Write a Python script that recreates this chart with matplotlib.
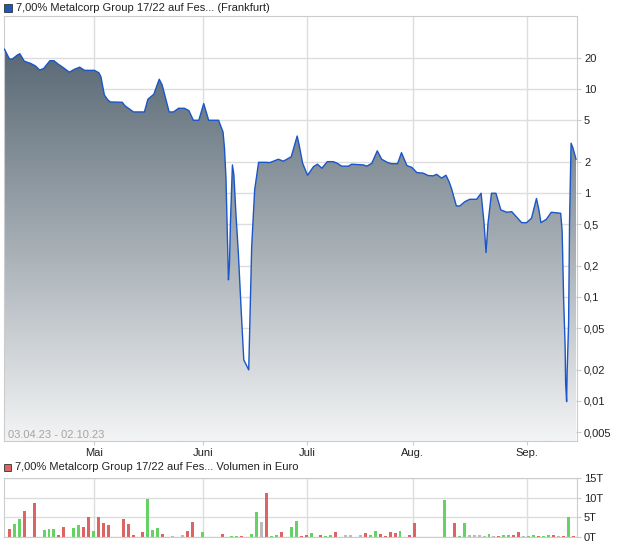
import numpy as np
import matplotlib
matplotlib.use('Agg')
import matplotlib.pyplot as plt
from matplotlib.colors import LinearSegmentedColormap
from matplotlib.patches import Rectangle
from matplotlib.ticker import NullLocator, FixedLocator

plt.rcParams['font.family'] = ['Liberation Sans', 'DejaVu Sans']

# price course, x = trading day since 03.04.23
days = [0, 1.0, 1.6, 2.6, 3.1, 4.0, 5.3, 6.3, 7.1, 7.9, 9.2, 10.0, 10.8, 12.0, 13.1,
        14.2, 15.2, 16.2, 18.2, 19.1, 19.5, 20.2, 20.9, 21.4, 23.8, 24.4, 26.1, 28.3,
        29.0, 30.2, 31.3, 31.9, 33.3, 34.2, 35.2, 36.4, 37.3, 38.2, 39.3, 40.3, 41.3,
        43.3, 44.2, 44.5, 44.8, 45.2, 45.3, 45.5, 45.7, 46.1, 46.4, 46.8, 47.3, 47.9,
        48.4, 49.4, 49.6, 50.0, 50.6, 51.4, 52.7, 53.7, 55.4, 56.4, 58.0, 59.2, 59.6,
        60.3, 61.3, 62.5, 63.3, 64.2, 65.3, 66.5, 67.3, 68.2, 69.6, 70.2, 72.6, 73.3,
        74.3, 75.4, 76.3, 77.4, 78.3, 79.5, 80.3, 81.4, 82.4, 83.4, 84.7, 85.7, 86.7,
        87.4, 88.4, 89.3, 89.9, 90.4, 91.4, 92.1, 93.1, 94.1, 95.5, 96.4, 97.0, 97.4,
        97.8, 98.5, 99.4, 100.4, 101.6, 102.6, 104.6, 105.6, 106.6, 107.6, 108.1, 108.5,
        109.6, 110.6, 112.5, 112.8, 113.1, 113.4, 113.5, 113.7, 113.8, 114.1, 114.2,
        114.3, 114.6, 115.0, 115.6]
price = [24.1, 19.4, 19.4, 21.2, 21.8, 18.5, 17.6, 16.6, 15.2, 15.7, 18.7, 18.7, 17.4,
         15.9, 14.5, 15.5, 16.2, 15.1, 15.1, 14.3, 13.1, 8.75, 7.84, 7.5, 7.45, 6.87,
         6.01, 6.01, 7.96, 8.89, 12.4, 10.9, 6.01, 6.01, 6.52, 6.52, 6.18, 5.0, 5.0,
         7.23, 5.0, 5.0, 3.86, 2.69, 1.38, 0.212, 0.146, 0.203, 0.515, 1.86, 1.49, 0.643,
         0.265, 0.0702, 0.0248, 0.0199, 0.0482, 0.305, 1.07, 1.97, 1.97, 1.96, 2.11,
         2.02, 2.23, 3.53, 2.89, 1.93, 1.48, 1.79, 1.89, 1.73, 2.0, 2.0, 1.93, 1.81,
         1.81, 1.89, 1.86, 1.81, 1.93, 2.54, 2.11, 1.97, 1.91, 1.91, 2.44, 1.83, 1.76,
         1.57, 1.55, 1.47, 1.46, 1.51, 1.39, 1.48, 1.29, 1.11, 0.75, 0.75, 0.824, 0.869,
         0.869, 0.993, 0.511, 0.267, 0.511, 0.993, 0.993, 0.687, 0.652, 0.661, 0.518,
         0.518, 0.571, 0.885, 0.687, 0.518, 0.558, 0.652, 0.638, 0.425, 0.0935, 0.0333,
         0.0149, 0.00984, 0.0186, 0.0562, 0.182, 0.55, 3.01, 2.69, 2.11]

months = ['Mai', 'Juni', 'Juli', 'Aug.', 'Sep.']
month_pos = [18.2, 40.2, 61.2, 82.6, 105.7]

price_ticks = [20, 10, 5, 2, 1, 0.5, 0.2, 0.1, 0.05, 0.02, 0.01, 0.005]
price_labels = ['20', '10', '5', '2', '1', '0,5', '0,2', '0,1', '0,05', '0,02', '0,01', '0,005']

# volume in thousand euro, r = down, g = up, n = unchanged
vol_days = [1, 2, 3, 4, 6, 8, 9, 10, 11, 12, 14, 15, 16, 17, 18, 19, 20, 21, 24, 25, 26,
            28, 29, 30, 31, 32, 34, 36, 37, 38, 40, 44, 46, 47, 48, 50, 51, 52, 53, 54,
            55, 56, 58, 59, 60, 61, 62, 64, 65, 66, 67, 69, 70, 72, 73, 74, 75, 76, 77,
            78, 79, 80, 82, 83, 89, 91, 92, 93, 94, 95, 96, 97, 98, 99, 100, 101, 102,
            103, 104, 105, 106, 107, 108, 109, 110, 111, 112, 113, 114, 115]
vol = [1.95, 3.2, 4.5, 6.5, 8.6, 1.7, 1.95, 1.95, 0.5, 2.5, 2.2, 3.0, 2.5, 5.0, 1.4, 5.0,
       3.5, 3.0, 4.7, 3.2, 0.5, 1.2, 9.6, 1.7, 2.2, 0.7, 0.2, 0.4, 1.4, 3.7, 1.2, 0.7,
       0.2, 0.2, 0.25, 0.7, 6.3, 3.7, 11.1, 0.3, 0.4, 1.2, 2.5, 4.0, 0.3, 0.5, 0.9, 0.4,
       0.25, 0.4, 1.2, 0.4, 0.4, 0.4, 0.9, 0.4, 1.4, 0.7, 0.25, 1.2, 1.0, 1.4, 0.4, 3.5,
       9.3, 3.5, 0.25, 3.5, 0.4, 0.4, 0.4, 0.25, 0.7, 0.25, 0.25, 0.4, 0.4, 0.4, 1.2,
       0.25, 0.25, 0.4, 0.25, 0.25, 0.4, 0.4, 0.25, 0.25, 5.0, 0.25]
vol_dir = ('rggrrgggrr' 'ggrrgrrrrr' 'rrgggrnnrr' 'grggrggnrg' 'grggrrgrgg'
           'rnnnrggrrr' 'rgrrgrggnn' 'nngnrggrrn' 'ggrggrnrgr')
vol_ticks = [0, 5, 10, 15]
vol_labels = ['0T', '5T', '10T', '15T']

dir_color = {'r': '#dd6464', 'g': '#66d266', 'n': '#bbbbbb'}

W, H = 620, 546
fig = plt.figure(figsize=(W / 100, H / 100), dpi=100)

# ---- price panel
ax = fig.add_axes([4 / W, 1 - 441 / H, 573 / W, 425 / H])
ax.set_yscale('log')

poly, = ax.fill(days + [days[-1], days[0]], price + [1e-4, 1e-4],
                facecolor='none', edgecolor='none')
cmap = LinearSegmentedColormap.from_list('g', ['#f3f4f5', '#4b5c69'])
grad = np.linspace(0, 1, 256).reshape(-1, 1)
im = ax.imshow(grad, extent=[0, 1, 0, 1], transform=ax.transAxes, origin='lower',
               aspect='auto', cmap=cmap, zorder=1)
im.set_clip_path(poly)
ax.plot(days, price, color='#1a56c8', lw=1.0, zorder=3)

ax.set_xlim(-0.1, 115.8)
ax.set_ylim(0.00412, 50.3)
ax.yaxis.set_major_locator(FixedLocator(price_ticks))
ax.yaxis.set_minor_locator(NullLocator())
ax.set_yticklabels(price_labels)
ax.set_xticks(month_pos)
ax.set_xticklabels(months)
ax.yaxis.tick_right()
ax.grid(color='#dddddd', lw=1, zorder=0)
ax.set_axisbelow(True)
ax.tick_params(axis='y', length=3, color='#cccccc', labelsize=8, pad=2, labelcolor='#222222')
ax.tick_params(axis='x', length=3, color='#cccccc', labelsize=8, pad=2, labelcolor='#222222')
for s in ax.spines.values():
    s.set_color('#cccccc')
ax.text(4 / 573, 6 / 425, '03.04.23 - 02.10.23', transform=ax.transAxes,
        fontsize=8, color='#aaa39b', va='center', ha='left')

fig.patches.append(Rectangle((4 / W, 1 - 12 / H), 8 / W, 8 / H, transform=fig.transFigure,
                             facecolor='#1f57b8', edgecolor='#333333', lw=0.6))
fig.text(16 / W, 1 - 8 / H, '7,00% Metalcorp Group 17/22 auf Fes... (Frankfurt)',
         fontsize=8, va='center', ha='left', color='#222222')

# ---- volume panel
ax2 = fig.add_axes([4 / W, 1 - 537 / H, 573 / W, 59 / H])
ax2.bar(vol_days, vol, width=0.6, color=[dir_color[c] for c in vol_dir], zorder=2)
ax2.set_xlim(-0.1, 115.8)
ax2.set_ylim(0, 15)
ax2.set_yticks(vol_ticks)
ax2.set_yticklabels(vol_labels)
ax2.set_xticks(month_pos)
ax2.set_xticklabels([])
ax2.yaxis.tick_right()
ax2.grid(color='#dddddd', lw=1, zorder=0)
ax2.set_axisbelow(True)
ax2.tick_params(axis='y', length=3, color='#cccccc', labelsize=8, pad=2, labelcolor='#222222')
ax2.tick_params(axis='x', length=0)
for s in ax2.spines.values():
    s.set_color('#cccccc')

fig.patches.append(Rectangle((4 / W, 1 - 471 / H), 7 / W, 7 / H, transform=fig.transFigure,
                             facecolor='#dd6464', edgecolor='#333333', lw=0.6))
fig.text(15 / W, 1 - 467 / H, '7,00% Metalcorp Group 17/22 auf Fes... Volumen in Euro',
         fontsize=8, va='center', ha='left', color='#222222')

fig.savefig('out.png', dpi=100)
